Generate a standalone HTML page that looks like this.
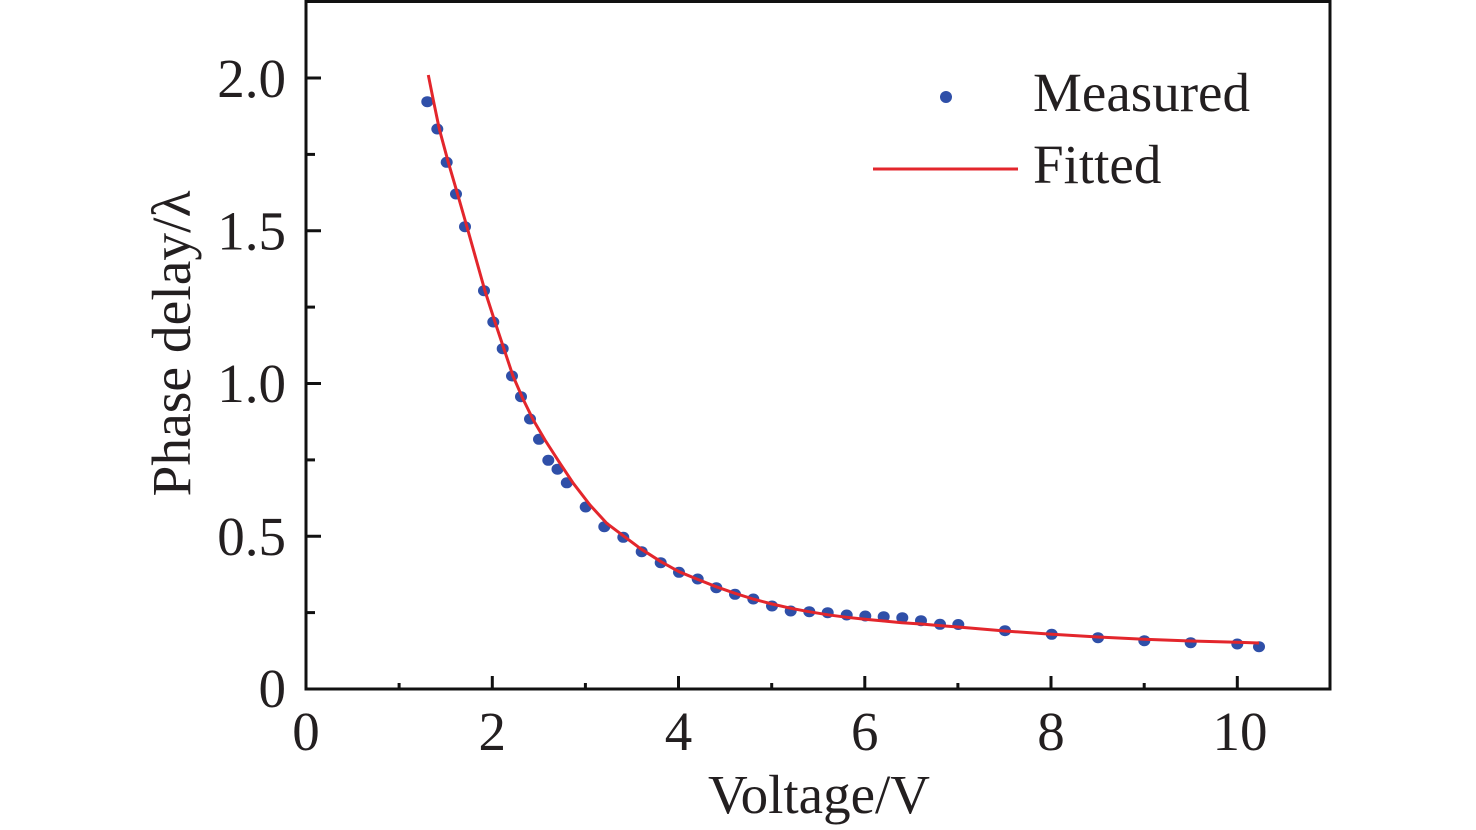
<!DOCTYPE html>
<html>
<head>
<meta charset="utf-8">
<style>
  html, body { margin: 0; padding: 0; background: #ffffff; }
  svg { display: block; }
  text { font-family: "Liberation Serif", "DejaVu Serif", serif; fill: #231f20; }
</style>
</head>
<body>
<svg width="1476" height="830" viewBox="0 0 1476 830" xmlns="http://www.w3.org/2000/svg">
  <rect x="0" y="0" width="1476" height="830" fill="#ffffff"/>

  <rect x="306" y="1.5" width="1024" height="687.5" fill="none" stroke="#111" stroke-width="3"/>

  <g stroke="#111" stroke-width="3">
    <line x1="306" y1="536.25" x2="321" y2="536.25"/>
    <line x1="306" y1="383.5" x2="321" y2="383.5"/>
    <line x1="306" y1="230.75" x2="321" y2="230.75"/>
    <line x1="306" y1="78" x2="321" y2="78"/>
    <line x1="306" y1="612.6" x2="315" y2="612.6"/>
    <line x1="306" y1="459.9" x2="315" y2="459.9"/>
    <line x1="306" y1="307.1" x2="315" y2="307.1"/>
    <line x1="306" y1="154.4" x2="315" y2="154.4"/>
    <line x1="492.3" y1="689" x2="492.3" y2="676"/>
    <line x1="678.5" y1="689" x2="678.5" y2="676"/>
    <line x1="864.8" y1="689" x2="864.8" y2="676"/>
    <line x1="1051" y1="689" x2="1051" y2="676"/>
    <line x1="1237.3" y1="689" x2="1237.3" y2="676"/>
    <line x1="399.1" y1="689" x2="399.1" y2="683"/>
    <line x1="585.4" y1="689" x2="585.4" y2="683"/>
    <line x1="771.7" y1="689" x2="771.7" y2="683"/>
    <line x1="957.9" y1="689" x2="957.9" y2="683"/>
    <line x1="1144.2" y1="689" x2="1144.2" y2="683"/>
  </g>

  <g font-size="55" text-anchor="end">
    <text x="286" y="97">2.0</text>
    <text x="286" y="249.5">1.5</text>
    <text x="286" y="402">1.0</text>
    <text x="286" y="555">0.5</text>
    <text x="286" y="707">0</text>
  </g>

  <g font-size="55" text-anchor="middle">
    <text x="306" y="750">0</text>
    <text x="492.3" y="750">2</text>
    <text x="678.5" y="750">4</text>
    <text x="864.8" y="750">6</text>
    <text x="1051" y="750">8</text>
    <text x="1240" y="750">10</text>
  </g>

  <text x="819" y="813" font-size="55" text-anchor="middle" textLength="222" lengthAdjust="spacingAndGlyphs">Voltage/V</text>
  <text x="190" y="343.5" font-size="55" text-anchor="middle" transform="rotate(-90 190 343.5)" textLength="306" lengthAdjust="spacingAndGlyphs">Phase delay/λ</text>

  <g fill="#2f4fa8">
    <ellipse cx="427.3" cy="101.7" rx="6" ry="5.5"/>
    <ellipse cx="437.3" cy="129" rx="6" ry="5.5"/>
    <ellipse cx="446.7" cy="162.3" rx="6" ry="5.5"/>
    <ellipse cx="456" cy="194" rx="6" ry="5.5"/>
    <ellipse cx="465" cy="226.7" rx="6" ry="5.5"/>
    <ellipse cx="484" cy="290.7" rx="6" ry="5.5"/>
    <ellipse cx="493.3" cy="322" rx="6" ry="5.5"/>
    <ellipse cx="502.7" cy="348.7" rx="6" ry="5.5"/>
    <ellipse cx="512" cy="376" rx="6" ry="5.5"/>
    <ellipse cx="521" cy="396.7" rx="6" ry="5.5"/>
    <ellipse cx="530" cy="419" rx="6" ry="5.5"/>
    <ellipse cx="539" cy="439.3" rx="6" ry="5.5"/>
    <ellipse cx="548.3" cy="460.3" rx="6" ry="5.5"/>
    <ellipse cx="557.5" cy="469.2" rx="6" ry="5.5"/>
    <ellipse cx="566.8" cy="482.8" rx="6" ry="5.5"/>
    <ellipse cx="585.7" cy="507" rx="6" ry="5.5"/>
    <ellipse cx="604.3" cy="526.7" rx="6" ry="5.5"/>
    <ellipse cx="623.3" cy="537.3" rx="6" ry="5.5"/>
    <ellipse cx="641.7" cy="551.7" rx="6" ry="5.5"/>
    <ellipse cx="660.7" cy="562.7" rx="6" ry="5.5"/>
    <ellipse cx="679" cy="572.3" rx="6" ry="5.5"/>
    <ellipse cx="697.7" cy="579" rx="6" ry="5.5"/>
    <ellipse cx="716.3" cy="587.7" rx="6" ry="5.5"/>
    <ellipse cx="735" cy="594.3" rx="6" ry="5.5"/>
    <ellipse cx="753.3" cy="599" rx="6" ry="5.5"/>
    <ellipse cx="772" cy="606" rx="6" ry="5.5"/>
    <ellipse cx="790.7" cy="611" rx="6" ry="5.5"/>
    <ellipse cx="809.3" cy="611.7" rx="6" ry="5.5"/>
    <ellipse cx="827.7" cy="612.7" rx="6" ry="5.5"/>
    <ellipse cx="846.7" cy="615" rx="6" ry="5.5"/>
    <ellipse cx="865.3" cy="616" rx="6" ry="5.5"/>
    <ellipse cx="883.7" cy="616.7" rx="6" ry="5.5"/>
    <ellipse cx="902.3" cy="617.7" rx="6" ry="5.5"/>
    <ellipse cx="921" cy="620.7" rx="6" ry="5.5"/>
    <ellipse cx="940" cy="624.3" rx="6" ry="5.5"/>
    <ellipse cx="958.3" cy="624.5" rx="6" ry="5.5"/>
    <ellipse cx="1005" cy="630.7" rx="6" ry="5.5"/>
    <ellipse cx="1051.7" cy="634.3" rx="6" ry="5.5"/>
    <ellipse cx="1098" cy="637.7" rx="6" ry="5.5"/>
    <ellipse cx="1144.3" cy="640.7" rx="6" ry="5.5"/>
    <ellipse cx="1190.7" cy="642.7" rx="6" ry="5.5"/>
    <ellipse cx="1237.3" cy="644" rx="6" ry="5.5"/>
    <ellipse cx="1259" cy="646.7" rx="6" ry="5.5"/>
  </g>

  <polyline fill="none" stroke="#e3262c" stroke-width="3" stroke-linejoin="round"
    points="428.3,75 433.5,101 439.3,129 448.3,162.3 457.7,194.5 467,227 476,259 485,291 495,322 504,349 513,376 523,399 533.3,420 545,440 560,463.3 573.3,483.3 590,505 606.7,523.3 626.7,538.3 640,548.3 661,561.7 679,571.7 698,579.5 716,586.7 735,593.3 753,599 772,604 791,608.3 809,611.7 828,614.8 847,617.3 865,619.3 884,621 902,622.7 921,624 940,625.6 958,627 1005,631 1052,634.3 1098,637 1144,639.3 1191,641 1237,642.3 1259,643"/>

  <circle cx="946" cy="97" r="6" fill="#2f4fa8"/>
  <line x1="873" y1="169" x2="1018" y2="169" stroke="#e3262c" stroke-width="3"/>
  <text x="1033" y="111" font-size="55" textLength="217" lengthAdjust="spacingAndGlyphs">Measured</text>
  <text x="1033" y="183" font-size="55">Fitted</text>
</svg>
</body>
</html>
